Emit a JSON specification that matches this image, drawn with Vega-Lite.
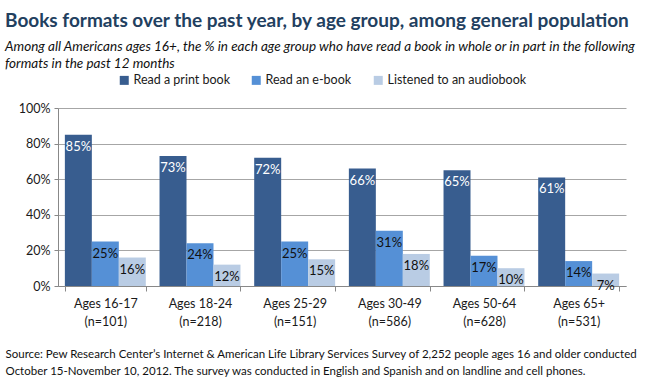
{
  "$schema": "https://vega.github.io/schema/vega-lite/v6.json",
  "autosize": "none",
  "width": 568,
  "height": 178,
  "padding": {"left": 58, "top": 108, "right": 24, "bottom": 97},
  "background": "white",
  "title": {
    "text": "Books formats over the past year, by age group, among general population",
    "subtitle": ["Among all Americans ages 16+, the % in each age group who have read a book in whole or in part in the following", "formats in the past 12 months"],
    "anchor": "start",
    "frame": "bounds",
    "font": "Lato",
    "fontSize": 19,
    "fontWeight": "bold",
    "color": "#22405f",
    "subtitleFont": "Lato",
    "subtitleFontSize": 13.5,
    "subtitleFontStyle": "italic",
    "subtitleColor": "#111111",
    "subtitlePadding": 9,
    "subtitleLineHeight": 17,
    "offset": 4
  },
  "data": {
    "values": [
      {"age": "Ages 16-17|(n=101)", "format": "Read a print book", "value": 0.85},
      {"age": "Ages 16-17|(n=101)", "format": "Read an e-book", "value": 0.25},
      {"age": "Ages 16-17|(n=101)", "format": "Listened to an audiobook", "value": 0.16},
      {"age": "Ages 18-24|(n=218)", "format": "Read a print book", "value": 0.73},
      {"age": "Ages 18-24|(n=218)", "format": "Read an e-book", "value": 0.24},
      {"age": "Ages 18-24|(n=218)", "format": "Listened to an audiobook", "value": 0.12},
      {"age": "Ages 25-29|(n=151)", "format": "Read a print book", "value": 0.72},
      {"age": "Ages 25-29|(n=151)", "format": "Read an e-book", "value": 0.25},
      {"age": "Ages 25-29|(n=151)", "format": "Listened to an audiobook", "value": 0.15},
      {"age": "Ages 30-49|(n=586)", "format": "Read a print book", "value": 0.66},
      {"age": "Ages 30-49|(n=586)", "format": "Read an e-book", "value": 0.31},
      {"age": "Ages 30-49|(n=586)", "format": "Listened to an audiobook", "value": 0.18},
      {"age": "Ages 50-64|(n=628)", "format": "Read a print book", "value": 0.65},
      {"age": "Ages 50-64|(n=628)", "format": "Read an e-book", "value": 0.17},
      {"age": "Ages 50-64|(n=628)", "format": "Listened to an audiobook", "value": 0.10},
      {"age": "Ages 65+|(n=531)", "format": "Read a print book", "value": 0.61},
      {"age": "Ages 65+|(n=531)", "format": "Read an e-book", "value": 0.14},
      {"age": "Ages 65+|(n=531)", "format": "Listened to an audiobook", "value": 0.07}
    ]
  },
  "encoding": {
    "x": {
      "field": "age",
      "type": "nominal",
      "sort": null,
      "scale": {"paddingInner": 0.145, "paddingOuter": 0.0725},
      "axis": {
        "labelExpr": "split(datum.label, '|')",
        "labelAngle": 0,
        "labelFont": "Lato",
        "labelFontSize": 12.5,
        "labelColor": "#1a1a1a",
        "labelLineHeight": 18,
        "labelPadding": 6,
        "tickBand": "extent",
        "tickSize": 5,
        "tickColor": "#888888",
        "domainColor": "#888888",
        "title": ["Source: Pew Research Center\u2019s Internet & American Life Library Services Survey of 2,252 people ages 16 and older conducted", "October 15-November 10, 2012. The survey was conducted in English and Spanish and on landline and cell phones."],
        "titleFont": "Lato",
        "titleFontSize": 11.5,
        "titleFontWeight": "normal",
        "titleColor": "#111111",
        "titleAlign": "left",
        "titleAnchor": "start",
        "titleBaseline": "top",
        "titleLineHeight": 17,
        "titleX": -53,
        "titleY": 62
      }
    },
    "xOffset": {
      "field": "format",
      "type": "nominal",
      "sort": ["Read a print book", "Read an e-book", "Listened to an audiobook"],
      "scale": {"paddingInner": 0, "paddingOuter": 0}
    },
    "y": {
      "field": "value",
      "type": "quantitative",
      "scale": {"domain": [0, 1]},
      "axis": {
        "values": [0, 0.2, 0.4, 0.6, 0.8, 1],
        "format": ".0%",
        "labelFont": "Lato",
        "labelFontSize": 12.5,
        "labelColor": "#1a1a1a",
        "labelPadding": 4,
        "tickSize": 4,
        "tickColor": "#888888",
        "domainColor": "#888888",
        "gridColor": "#a6a6a6",
        "grid": true,
        "title": null
      }
    }
  },
  "layer": [
    {
      "mark": {"type": "bar"},
      "encoding": {
        "color": {
          "field": "format",
          "type": "nominal",
          "sort": ["Read a print book", "Read an e-book", "Listened to an audiobook"],
          "scale": {"domain": ["Read a print book", "Read an e-book", "Listened to an audiobook"], "range": ["#385d8f", "#5590d6", "#b9cce4"]},
          "legend": {
            "orient": "none",
            "legendX": 60,
            "legendY": -34,
            "direction": "horizontal",
            "title": null,
            "symbolType": "square",
            "symbolSize": 81,
            "symbolStrokeWidth": 0,
            "labelFont": "Lato",
            "labelFontSize": 12.5,
            "labelColor": "#1a1a1a",
            "columnPadding": 20,
            "labelOffset": 3
          }
        }
      }
    },
    {
      "mark": {"type": "text", "baseline": "top", "dy": 6, "font": "Lato", "fontSize": 13, "align": "center"},
      "encoding": {
        "text": {"field": "value", "type": "quantitative", "format": ".0%"},
        "detail": {"field": "format"},
        "color": {
          "condition": {"test": "datum.format === 'Read a print book'", "value": "white"},
          "value": "#111111"
        }
      }
    }
  ],
  "config": {"view": {"stroke": null}}
}
